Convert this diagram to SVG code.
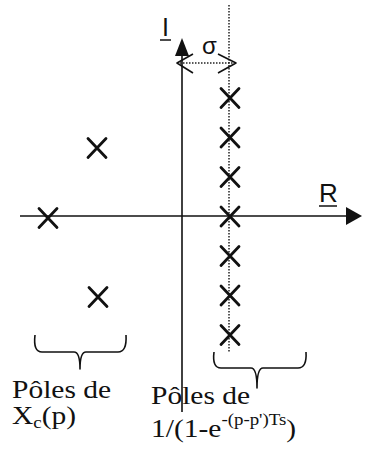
<svg xmlns="http://www.w3.org/2000/svg" width="369" height="452" viewBox="0 0 369 452">
<style>
.ax{stroke:#111;stroke-width:1.6;fill:none}
.dot{stroke:#222;stroke-width:1.5;stroke-dasharray:1.5 1.5;fill:none}
.x{stroke:#111;stroke-width:2.8;stroke-linecap:round;fill:none}
.br{stroke:#111;stroke-width:1.6;fill:none;stroke-linejoin:round}
.sans{font-family:"Liberation Sans",Arial,sans-serif;fill:#111}
.serif{font-family:"Liberation Serif","Times New Roman",serif;fill:#111;font-size:25px}
</style>
<defs>
<path id="cross" d="M-9,-9.5 L9,9.5 M9,-9.5 L-9,9.5"/>
</defs>
<rect width="369" height="452" fill="#fff"/>
<g id="connectors">
<line class="ax" x1="182" y1="50" x2="182" y2="412"/>
<path d="M182,38 L175,56 L189,56 Z" fill="#111"/>
<line class="ax" x1="20" y1="216" x2="350" y2="216"/>
<path d="M362,216 L346,207 L346,225 Z" fill="#111"/>
<line class="dot" x1="229" y1="5" x2="229" y2="352"/>
<line class="dot" x1="180" y1="63" x2="234" y2="63"/>
<path class="br" d="M193,54 L177,63 L193,73 M218,54 L236,63 L218,73"/>
</g>
<g id="axis-labels">
<text class="sans" x="162" y="36" font-size="25">I</text>
<line x1="160" y1="40" x2="171" y2="40" stroke="#111" stroke-width="1.5"/>
<text class="sans" x="319" y="202" font-size="26">R</text>
<line x1="319" y1="206" x2="337" y2="206" stroke="#111" stroke-width="1.5"/>
<text class="sans" x="202" y="54" font-size="24">σ</text>
</g>
<g id="poles-xc">
<use href="#cross" class="x" x="97" y="148"/>
<use href="#cross" class="x" x="48" y="218"/>
<use href="#cross" class="x" x="98" y="297"/>
</g>
<g id="poles-sampling">
<use href="#cross" class="x" x="230" y="98"/>
<use href="#cross" class="x" x="230" y="137.5"/>
<use href="#cross" class="x" x="230" y="177"/>
<use href="#cross" class="x" x="230" y="216.5"/>
<use href="#cross" class="x" x="230" y="256"/>
<use href="#cross" class="x" x="230" y="295.5"/>
<use href="#cross" class="x" x="230" y="335"/>
</g>
<g id="brace-left">
<path class="br" d="M35,335 Q33,352 42,352 L74,352 Q80,352 80,369 Q80,352 86,352 L118,352 Q127,352 126,335"/>
</g>
<g id="brace-right">
<path class="br" d="M214,352 Q212,368 221,368 L251,368 Q257,368 257,388 Q257,368 263,368 L298,368 Q307,368 306,352"/>
</g>
<g id="label-left" transform="translate(12,0) scale(1.18,1)">
<text class="serif" x="0" y="398">Pôles de</text>
<text class="serif" x="0" y="424">X<tspan font-size="16" dy="4">c</tspan><tspan dy="-4">(p)</tspan></text>
</g>
<g id="label-right" transform="translate(151,0) scale(1.18,1)">
<text class="serif" x="0" y="404">Pôles de</text>
<text class="serif" x="0" y="437">1/(1-e<tspan font-size="16" dy="-12">-(p-p')Ts</tspan><tspan dy="12">)</tspan></text>
</g>
</svg>
